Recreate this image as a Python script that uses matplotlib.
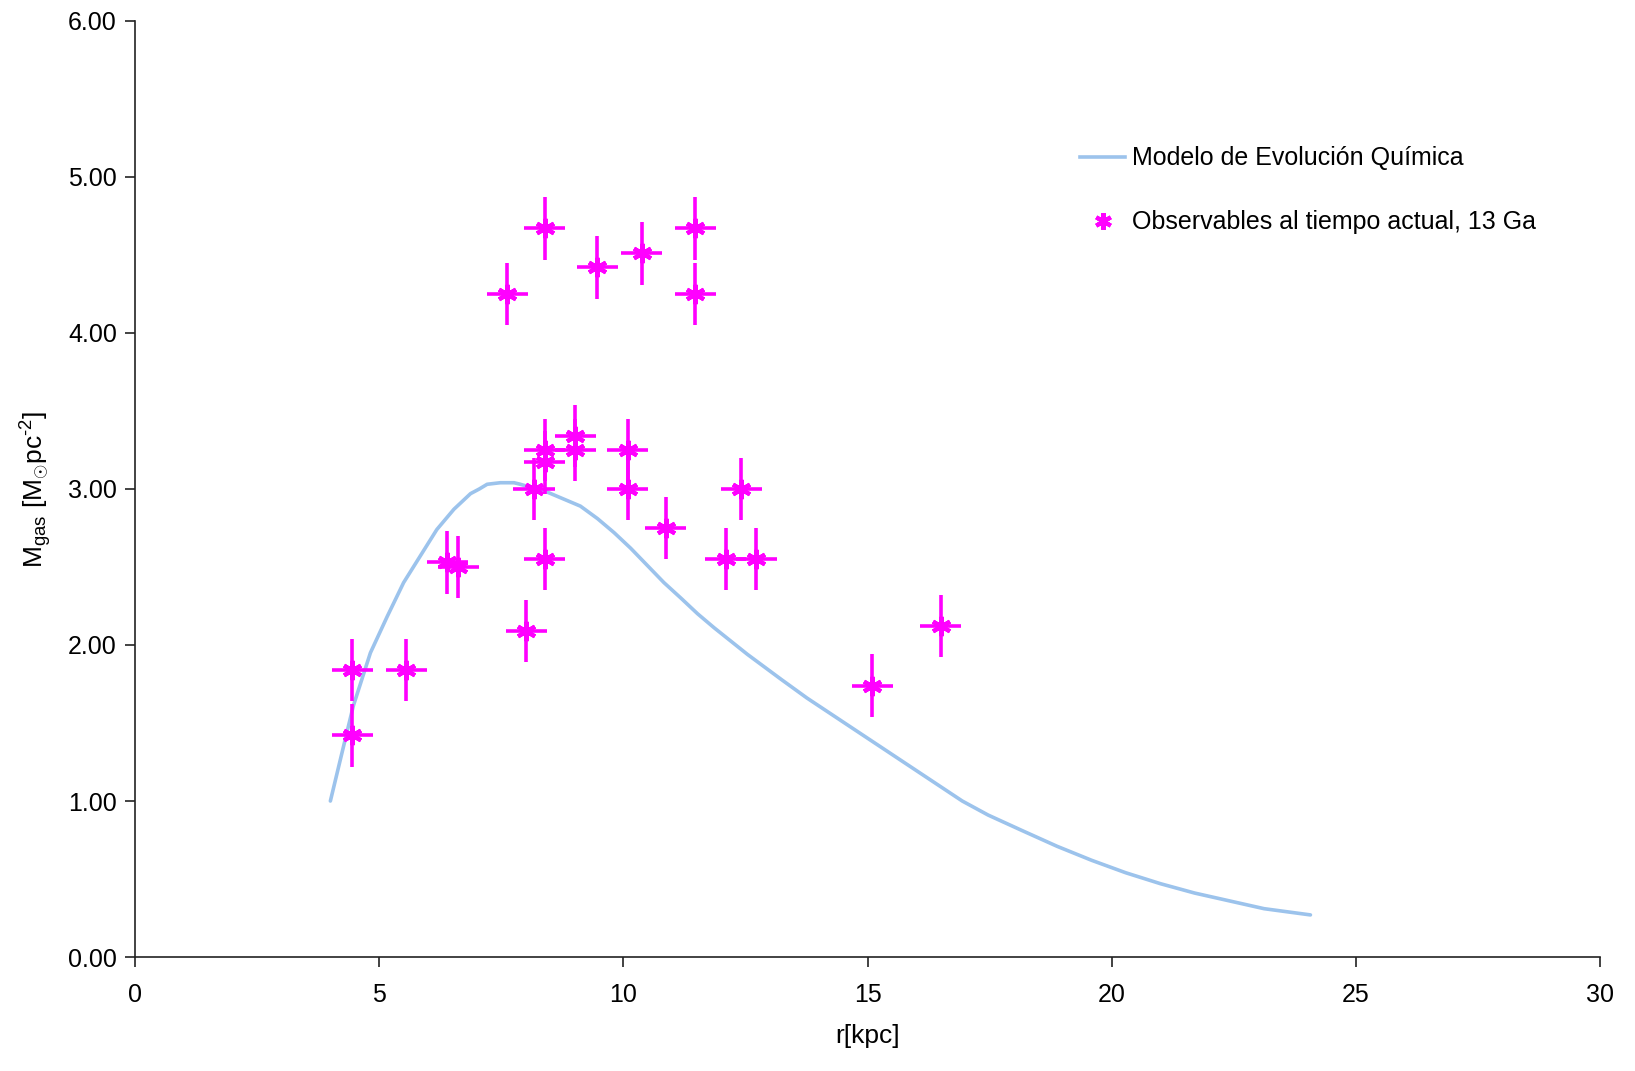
import matplotlib
matplotlib.use('Agg')
import matplotlib.pyplot as plt
from matplotlib.lines import Line2D
from matplotlib.ticker import FormatStrFormatter

plt.rcParams['font.family'] = ['Liberation Sans', 'DejaVu Sans']
plt.rcParams['mathtext.fontset'] = 'custom'
plt.rcParams['mathtext.rm'] = 'Liberation Sans'
plt.rcParams['mathtext.it'] = 'Liberation Sans'

# modelo de evolucion quimica
r_modelo = [4.0, 4.2, 4.47, 4.82, 5.16, 5.5, 5.84, 6.18, 6.53, 6.87, 7.05, 7.21, 7.48,
            7.76, 7.89, 8.44, 9.12, 9.47, 9.81, 10.15, 10.49, 10.83, 11.18, 11.52,
            11.86, 12.54, 13.23, 13.76, 14.29, 14.82, 15.35, 15.88, 16.41, 16.94,
            17.47, 18.17, 18.88, 19.59, 20.29, 21.0, 21.7, 22.41, 23.12, 24.07]
m_modelo = [1.0, 1.26, 1.61, 1.95, 2.18, 2.40, 2.57, 2.74, 2.87, 2.97, 3.00, 3.03, 3.04,
            3.04, 3.03, 2.98, 2.89, 2.81, 2.72, 2.62, 2.51, 2.40, 2.30, 2.20,
            2.11, 1.94, 1.78, 1.66, 1.55, 1.44, 1.33, 1.22, 1.11, 1.00,
            0.91, 0.81, 0.71, 0.62, 0.54, 0.47, 0.41, 0.36, 0.31, 0.27]

# observables
r_obs = [4.45, 4.45, 5.55, 6.39, 6.62, 7.62, 8.01, 8.17, 8.39, 8.39, 8.39, 8.39,
         9.01, 9.01, 9.47, 10.09, 10.09, 10.38, 10.87, 11.47, 11.47, 12.10,
         12.41, 12.72, 15.10, 16.50]
m_obs = [1.84, 1.42, 1.84, 2.53, 2.50, 4.25, 2.09, 3.00, 4.67, 3.25, 3.17, 2.55,
         3.34, 3.25, 4.42, 3.25, 3.00, 4.51, 2.75, 4.67, 4.25, 2.55,
         3.00, 2.55, 1.74, 2.12]
err_r = 0.42
err_m = 0.2

azul = '#9cc3ec'
magenta = '#ff00ff'
asterisco = (6, 2, 0)

fig = plt.figure(figsize=(16.35, 10.71), dpi=100)
ax = fig.add_axes([0.0826, 0.1064, 0.8960, 0.8741])

ax.plot(r_modelo, m_modelo, color=azul, lw=2.6, solid_capstyle='round',
        solid_joinstyle='round')
ax.errorbar(r_obs, m_obs, xerr=err_r, yerr=err_m, fmt='none', ecolor=magenta,
            elinewidth=2.6, capsize=0)
ax.plot(r_obs, m_obs, ls='none', marker=asterisco, color=magenta,
        markersize=14, markeredgewidth=3)

ax.set_xlim(0, 30)
ax.set_ylim(0, 6)
ax.set_xticks([0, 5, 10, 15, 20, 25, 30])
ax.set_yticks([0, 1, 2, 3, 4, 5, 6])
ax.yaxis.set_major_formatter(FormatStrFormatter('%.2f'))
ax.tick_params(labelsize=18, length=7, width=1.2, color='#222222')
ax.tick_params(axis='x', pad=12)
ax.tick_params(axis='y', pad=6)
for s in ['top', 'right']:
    ax.spines[s].set_visible(False)
for s in ['left', 'bottom']:
    ax.spines[s].set_linewidth(1.2)
    ax.spines[s].set_color('#222222')

ax.set_xlabel('r[kpc]', fontsize=19, labelpad=12)
ax.set_ylabel(r'M$_{\mathrm{gas}}$ [M$_{\odot}$pc$^{\text{-2}}$]', fontsize=19, labelpad=10)

manejadores = [
    Line2D([], [], color=azul, lw=2.6),
    Line2D([], [], ls='none', marker=asterisco, color=magenta, markersize=12,
           markeredgewidth=3),
]
ax.legend(manejadores, ['Modelo de Evolución Química',
                        'Observables al tiempo actual, 13 Ga'],
          loc='upper left', bbox_to_anchor=(0.630, 0.89), frameon=False,
          fontsize=18, handlelength=1.8, handletextpad=0.25, labelspacing=1.6)

fig.savefig('out.png', dpi=100)
